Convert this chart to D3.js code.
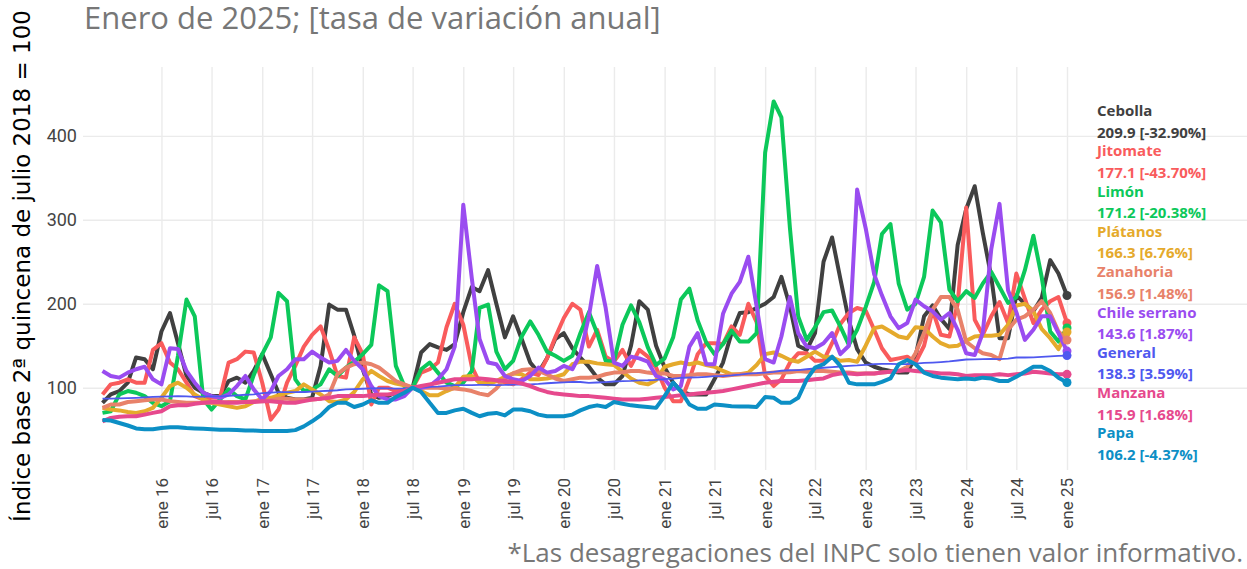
<!DOCTYPE html>
<html>
<head>
<meta charset="utf-8">
<script src="https://d3js.org/d3.v7.min.js"></script>
<style>
  body { margin: 0; background: #fff; }
  svg { display: block; }
</style>
</head>
<body>
<script>
// monthly index, jun 2015 .. ene 2025 (2a quincena jul 2018 = 100)
var cebolla = [82, 92, 96, 106, 136, 134, 122,
  167, 189, 153, 114, 100, 94, 90, 90, 108, 112, 106, 120,
  140, 116, 94, 88, 86, 86, 88, 126, 199, 193, 193, 162,
  122, 92, 88, 90, 94, 98, 100, 142, 152, 148, 145, 152,
  190, 220, 215, 240, 200, 160, 185, 158, 130, 118, 135, 158,
  165, 147, 136, 125, 112, 104, 104, 114, 150, 203, 193, 150,
  124, 106, 96, 92, 92, 92, 110, 130, 165, 189, 190, 195,
  200, 208, 232, 197, 150, 145, 165, 250, 279, 230, 180, 146,
  130, 125, 122, 120, 118, 118, 137, 185, 198, 182, 170, 270,
  312.8, 340, 285, 232, 159, 159, 210, 200, 191, 207, 252, 236,
  209.9];
var jitomate = [92, 104, 106, 110, 106, 106, 145,
  153, 130, 122, 106, 90, 86, 88, 88, 130, 134, 143, 142,
  106, 62, 74, 106, 126, 149, 163, 173, 145, 114, 112, 160,
  140, 80, 100, 100, 96, 98, 100, 118, 122, 130, 172, 200,
  175, 125, 106, 106, 108, 106, 104, 110, 118, 115, 135, 160,
  183, 200, 193, 149, 169, 137, 131, 145, 126, 145, 137, 124,
  100, 84, 84, 110, 140, 153, 153, 152, 173, 163, 200, 178,
  114, 102, 110, 130, 141, 141, 132, 132, 153, 176, 189, 195,
  192, 169, 147, 133, 135, 137, 130, 150, 192, 163, 161, 200,
  314.6, 181, 163, 185, 202, 177, 236, 206, 177, 193, 203, 208,
  177.1];
var limon = [70, 72, 92, 96, 94, 90, 82,
  78, 84, 138, 205, 185, 86, 74, 86, 98, 90, 86, 115,
  140, 160, 213, 203, 110, 96, 98, 104, 122, 114, 124, 131,
  140, 151, 222, 215, 126, 102, 100, 122, 130, 118, 106, 102,
  106, 120, 195, 199, 143, 122, 132, 161, 179, 163, 143, 138,
  132, 138, 165, 190, 165, 132, 131, 175, 198, 178, 148, 127,
  135, 160, 205, 218, 180, 154, 140, 152, 168, 155, 155, 165,
  380, 441, 422, 290, 185, 157, 172, 190, 192, 173, 151, 169,
  196, 226, 283, 295, 224, 193, 200, 232, 311, 297, 217, 203,
  215, 207, 224, 238, 220, 201, 208, 240, 281, 232, 167, 155,
  171.2];
var platanos = [76, 74, 73, 71, 70, 72, 76,
  88, 102, 106, 100, 92, 86, 82, 80, 78, 76, 78, 83,
  87, 88, 91, 94, 96, 104, 98, 92, 84, 83, 86, 95,
  110, 120, 114, 108, 105, 103, 100, 96, 91, 91, 96, 100,
  113, 114, 106, 104, 108, 113, 117, 116, 110, 110, 111, 113,
  116, 128, 131, 131, 129, 128, 127, 119, 111, 106, 104, 109,
  125, 128, 130, 128, 130, 127, 125, 120, 116, 116, 118, 127,
  140, 142, 138, 133, 131, 137, 143, 137, 136, 132, 133, 131,
  150, 171, 173, 167, 161, 159, 172, 171, 161, 153, 149, 150,
  155.8, 161, 162, 162, 163, 175, 198, 200, 191, 170, 159, 146,
  166.3];
var zanahoria = [76, 80, 80, 83, 84, 85, 86,
  86, 84, 83, 82, 82, 82, 82, 82, 83, 83, 83, 84,
  84, 85, 87, 87, 86, 86, 86, 87, 92, 116, 124, 128,
  130, 128, 124, 116, 108, 104, 100, 100, 100, 100, 99, 99,
  98, 96, 93, 91, 99, 111, 117, 121, 122, 120, 116, 111,
  108, 110, 112, 112, 113, 116, 118, 118.5, 120, 120, 118, 117,
  117, 114, 114, 115, 116, 116, 115, 114, 115, 116, 116, 116,
  117, 118, 118, 118.5, 120, 119, 120, 120, 119, 118, 118, 117,
  117, 117, 118, 119, 120, 125, 141, 165, 193, 208, 208, 193,
  154.6, 147, 141, 139, 134, 169, 181, 185, 193, 203, 189, 167,
  156.9];
var chile = [120, 114, 112, 118, 122, 125, 110,
  104, 147, 146, 120, 106, 94, 90, 88, 92, 102, 114, 98,
  86, 96, 114, 122, 134, 134, 143, 136, 130, 132, 145, 132,
  122, 102, 90, 86, 86, 90, 100, 100, 102, 110, 122, 149,
  318, 230, 158, 130, 128, 114, 110, 108, 114, 124, 118, 120,
  126, 122, 140, 185, 245, 195, 130, 126, 137, 135, 131, 114,
  110, 98, 102, 149, 165, 128, 128, 188, 212, 226, 256, 197,
  134, 130, 161, 208, 165, 149, 147, 153, 165, 140, 150, 336,
  290, 235, 210, 185, 171, 177, 205, 197, 191, 181, 189, 169,
  141, 139, 165, 265, 319, 216, 190, 157, 169, 185, 185, 165,
  143.6];
var general = [87.0, 87.1, 87.3, 87.6, 88.0, 88.5, 89.0,
  89.4, 89.8, 90.0, 89.7, 89.2, 89.3, 89.6, 89.8, 90.4, 91.0, 91.6, 92.0,
  93.6, 94.1, 94.7, 94.8, 94.7, 94.9, 95.3, 95.9, 96.4, 97.0, 98.0, 98.3,
  98.8, 99.2, 99.5, 99.2, 98.9, 99.3, 100.0, 100.5, 101.0, 101.4, 102.3, 103.0,
  103.1, 103.1, 103.5, 103.5, 103.2, 103.3, 103.7, 103.7, 104.0, 104.5, 105.3, 105.9,
  106.4, 106.9, 106.8, 105.8, 106.2, 106.7, 107.4, 107.9, 108.1, 108.8, 108.9, 109.3,
  110.2, 110.9, 111.8, 112.2, 112.4, 113.0, 113.7, 113.9, 114.6, 115.6, 116.9, 117.3,
  118.0, 118.9, 120.2, 120.8, 121.0, 122.0, 122.9, 123.8, 124.6, 125.3, 126.0, 126.5,
  127.3, 128.0, 128.4, 128.4, 128.1, 128.2, 128.8, 129.5, 130.0, 130.6, 131.4, 132.4,
  133.6, 133.7, 134.1, 134.3, 134.1, 134.6, 136.0, 136.0, 136.1, 136.7, 137.4, 137.9,
  138.3];
var manzana = [60, 64, 65.5, 66, 66, 68, 70,
  72, 78, 79, 79, 81, 82, 83, 83, 82, 82, 83, 83,
  84, 84, 83, 82, 82, 84, 86, 87, 88, 90, 90, 90,
  90, 91, 92, 92, 93, 96, 100, 102, 104, 106, 108, 110,
  110, 110, 111, 110, 109, 108, 107, 105, 102, 98, 95, 93,
  92, 91, 90, 90, 89, 88, 87, 86, 86, 86, 87, 88,
  89, 90, 91, 92, 93, 94, 95, 96, 98, 100, 102, 104,
  106, 107, 108, 108, 108, 109, 110, 111, 115, 117, 117, 116,
  117, 117, 118, 119, 120, 121, 120, 119, 118, 117, 117, 116,
  114, 115, 115, 115, 116, 115, 116, 117, 119, 118, 117, 116,
  115.9];
var papa = [61.5, 61, 58, 55, 51.5, 50.5, 50.5,
  52, 53, 53, 52, 51.5, 51, 50.5, 50, 50, 49.5, 49, 49,
  48.5, 48.5, 48.5, 48.5, 49.5, 54, 60, 67, 77, 82, 82, 77,
  80, 85, 82, 82, 89, 94, 100, 95, 82, 70, 70, 73,
  75, 70, 66, 69, 70, 67, 74, 74, 72, 68, 66, 66,
  66, 68, 73, 77, 79, 77, 83, 81, 79, 78, 77, 76,
  90, 106, 96, 80, 75, 75, 80, 79, 78, 77.5, 77.5, 77,
  89, 88, 82, 82, 88, 110, 124, 128, 137, 126, 106, 104,
  104, 104, 107, 111, 128, 133, 128, 118, 114, 112, 111, 110,
  111, 110, 112, 111, 108, 108, 113, 119, 125, 125, 120, 112,
  106.2];

var names = ["Cebolla", "Jitomate", "Limón", "Plátanos", "Zanahoria",
  "Chile serrano", "General", "Manzana", "Papa"];
var lastLabels = ["209.9 [-32.90%]", "177.1 [-43.70%]", "171.2 [-20.38%]",
  "166.3 [6.76%]", "156.9 [1.48%]", "143.6 [1.87%]", "138.3 [3.59%]",
  "115.9 [1.68%]", "106.2 [-4.37%]"];
var seriesValues = [cebolla, jitomate, limon, platanos, zanahoria, chile, general, manzana, papa];

var tickLabels = ["ene 16", "jul 16", "ene 17", "jul 17", "ene 18", "jul 18",
  "ene 19", "jul 19", "ene 20", "jul 20", "ene 21", "jul 21", "ene 22",
  "jul 22", "ene 23", "jul 23", "ene 24", "jul 24", "ene 25"];
var yTicks = [100, 200, 300, 400];

var colors = {
  "Cebolla": "#404040", "Jitomate": "#f95b5c", "Limón": "#0cc85a",
  "Plátanos": "#e5aa2c", "Zanahoria": "#e8826a", "Chile serrano": "#9a4cf0",
  "General": "#4f58ef", "Manzana": "#e6498d", "Papa": "#0c8fc5"
};

var W = 1247, H = 569;
var months = d3.timeMonth.range(new Date(2015, 5, 1), new Date(2025, 1, 1));
var monthIdx = { ene: 0, jul: 6 };
var tickDates = tickLabels.map(function (t) {
  var p = t.split(" ");
  return new Date(2000 + (+p[1]), monthIdx[p[0]], 1);
});

var svg = d3.select("body").append("svg").attr("width", W).attr("height", H);

var x = d3.scaleTime()
  .domain([new Date(2015, 5, 1), new Date(2025, 0, 1)])
  .range([102.5, 1067]);
var y = d3.scaleLinear().domain([2, 482]).range([470, 67]);

var plotLeft = 83, plotRight = W, plotTop = 67, plotBottom = 470;

// y axis + horizontal grid
var yAxis = svg.append("g")
  .attr("transform", "translate(" + plotLeft + ",0)")
  .call(d3.axisLeft(y).tickValues(yTicks).tickSize(-(plotRight - plotLeft)).tickPadding(6));
yAxis.select(".domain").remove();
yAxis.selectAll("line").attr("stroke", "#ebebeb").attr("stroke-width", 1.4);
yAxis.selectAll("text")
  .style("font-family", "Roboto, sans-serif").style("font-size", "18px").attr("fill", "#444");

// x axis + vertical grid
var xAxis = svg.append("g")
  .attr("transform", "translate(0," + plotBottom + ")")
  .call(d3.axisBottom(x).tickValues(tickDates)
    .tickFormat(function (d, i) { return tickLabels[i]; })
    .tickSize(-(plotBottom - plotTop)));
xAxis.select(".domain").remove();
xAxis.selectAll("line").attr("stroke", "#ebebeb").attr("stroke-width", 1.4);
xAxis.selectAll("text")
  .attr("transform", "rotate(-90)")
  .attr("x", -8).attr("y", 0).attr("dy", "0.35em")
  .style("text-anchor", "end")
  .style("font-family", "Roboto, sans-serif").style("font-size", "17px").attr("fill", "#444");

// lines
var line = d3.line()
  .x(function (d, i) { return x(months[i]); })
  .y(function (d) { return y(d); });

names.forEach(function (n, k) {
  var vals = seriesValues[k];
  svg.append("path")
    .datum(vals)
    .attr("d", line)
    .attr("fill", "none")
    .attr("stroke", colors[n])
    .attr("stroke-width", n === "General" ? 1.8 : 4)
    .attr("stroke-linejoin", "round");
});
names.forEach(function (n, k) {
  var vals = seriesValues[k];
  svg.append("circle")
    .attr("cx", x(months[vals.length - 1]))
    .attr("cy", y(vals[vals.length - 1]))
    .attr("r", 4.5)
    .attr("fill", colors[n]);
});

// end labels
var lab = svg.append("g")
  .style("font-family", "'Open Sans', sans-serif")
  .style("font-weight", "bold")
  .style("font-size", "15px");
names.forEach(function (n, k) {
  lab.append("text").attr("x", 1097).attr("y", 116 + 40.3 * k)
    .attr("fill", colors[n]).text(n);
  lab.append("text").attr("x", 1097).attr("y", 137.5 + 40.3 * k)
    .attr("fill", colors[n]).text(lastLabels[k]);
});

// titles
svg.append("text")
  .attr("x", 84).attr("y", 29)
  .style("font-family", "'Open Sans', sans-serif").style("font-size", "31px")
  .attr("fill", "#777")
  .text("Enero de 2025; [tasa de variación anual]");

svg.append("text")
  .attr("transform", "translate(30,266) rotate(-90)")
  .attr("text-anchor", "middle")
  .style("font-family", "'DejaVu Sans', sans-serif").style("font-size", "23px")
  .attr("fill", "#000")
  .text("Índice base 2ª quincena de julio 2018 = 100");

svg.append("text")
  .attr("x", 1243).attr("y", 562)
  .attr("text-anchor", "end")
  .style("font-family", "'Open Sans', sans-serif").style("font-size", "26px")
  .attr("fill", "#777")
  .text("*Las desagregaciones del INPC solo tienen valor informativo.");
</script>
</body>
</html>
